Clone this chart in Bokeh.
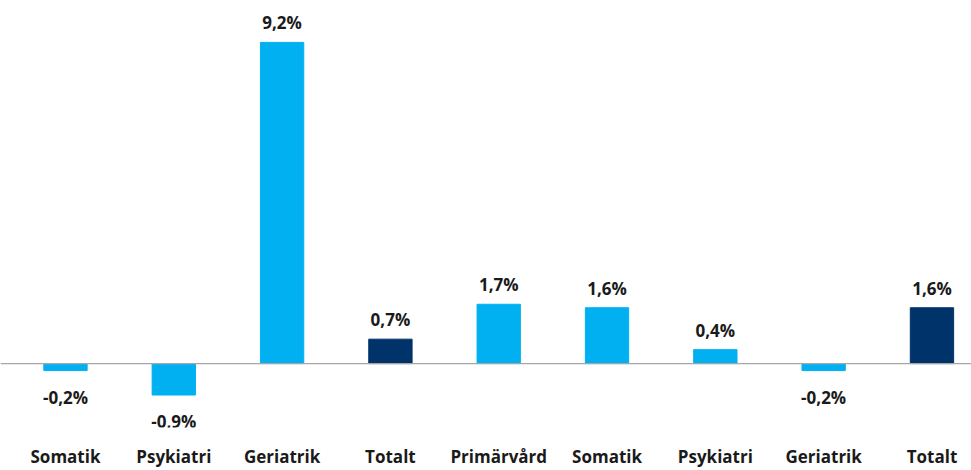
from bokeh.plotting import figure
from bokeh.models import ColumnDataSource, Range1d, Span, FixedTicker, LabelSet
from bokeh.core.properties import value
from bokeh.embed import file_html
from bokeh.resources import INLINE

categories = ["Somatik", "Psykiatri", "Geriatrik", "Totalt", "Primärvård",
              "Somatik", "Psykiatri", "Geriatrik", "Totalt"]
values = [-0.2, -0.9, 9.2, 0.7, 1.7, 1.6, 0.4, -0.2, 1.6]
is_total = [False, False, False, True, False, False, False, False, True]

LIGHT = "#00B0F0"
DARK = "#00336A"
FONT = "Open Sans"

xs = list(range(len(categories)))
colors = [DARK if t else LIGHT for t in is_total]
labels = [("%.1f%%" % v).replace(".", ",") for v in values]

pos = [i for i, v in enumerate(values) if v >= 0]
neg = [i for i, v in enumerate(values) if v < 0]

src = ColumnDataSource(dict(x=xs, top=values, color=colors, label=labels))
src_pos = ColumnDataSource(dict(x=[xs[i] for i in pos], y=[values[i] for i in pos],
                                label=[labels[i] for i in pos]))
src_neg = ColumnDataSource(dict(x=[xs[i] for i in neg], y=[values[i] for i in neg],
                                label=[labels[i] for i in neg]))

p = figure(width=971, height=470, output_backend="svg", toolbar_location=None,
           x_range=Range1d(-0.6, 8.365), y_range=Range1d(-1.83, 10.40),
           min_border=0, min_border_left=0, min_border_right=0, min_border_top=0)

p.vbar(x="x", top="top", bottom=0, width=0.40, color="color", source=src)

p.add_layout(Span(location=0, dimension="width", line_color="#A6A6A6", line_width=1.2))

p.add_layout(LabelSet(x="x", y="y", text="label", source=src_pos, text_align="center",
                      text_baseline="bottom", y_offset=8, text_font=value(FONT),
                      text_font_style="bold", text_font_size="17px", text_color="#1A1A1A"))
p.add_layout(LabelSet(x="x", y="y", text="label", source=src_neg, text_align="center",
                      text_baseline="top", y_offset=-15, text_font=value(FONT),
                      text_font_style="bold", text_font_size="17px", text_color="#1A1A1A"))

p.xaxis.ticker = FixedTicker(ticks=xs)
p.xaxis.major_label_overrides = {i: c for i, c in zip(xs, categories)}
p.xaxis.major_label_text_font = FONT
p.xaxis.major_label_text_font_style = "bold"
p.xaxis.major_label_text_font_size = "17px"
p.xaxis.major_label_text_color = "#1A1A1A"
p.xaxis.axis_line_color = None
p.xaxis.major_tick_line_color = None
p.xaxis.minor_tick_line_color = None
p.xaxis.major_label_standoff = 11
p.yaxis.visible = False
p.grid.visible = False
p.outline_line_color = None
p.background_fill_color = "white"
p.border_fill_color = "white"

open("out.html", "w").write(file_html(p, INLINE))
